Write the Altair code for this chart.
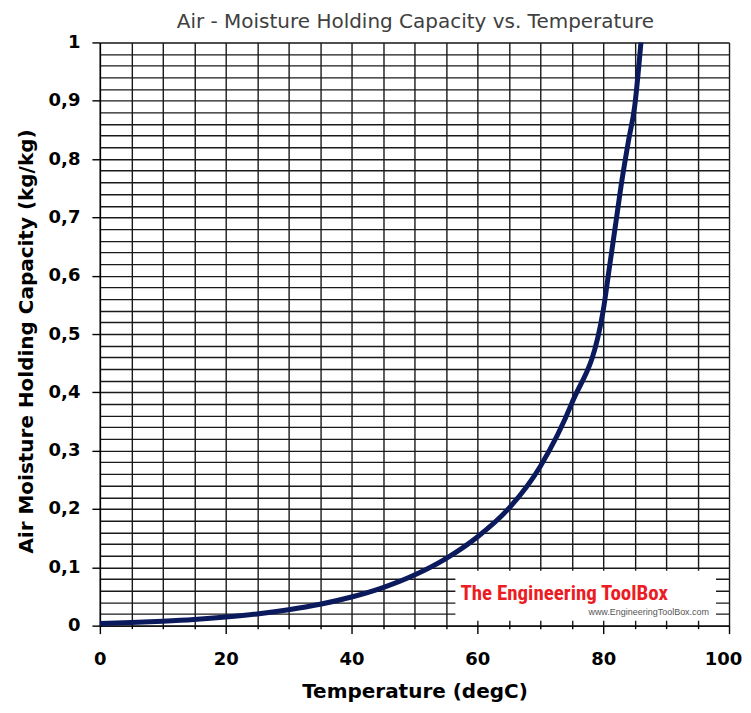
import altair as alt
import pandas as pd

# ---- data ----
temps = [0, 5, 10, 15, 20, 25, 30, 35, 40, 45, 50, 55, 60, 65, 70, 75, 80, 81, 82, 83, 84, 85, 86]
capacity = [0.0038, 0.0054, 0.0077, 0.0107, 0.0148, 0.0201, 0.0273, 0.0367, 0.0491, 0.0653,
            0.0868, 0.115, 0.152, 0.201, 0.273, 0.381, 0.54, 0.615, 0.69, 0.765, 0.83, 0.89, 1.0]

x_grid = list(range(0, 101, 5))
y_grid = [round(i * 0.02, 2) for i in range(51)]

chart_title = ["Air - Moisture Holding Capacity vs. Temperature"]
x_title = "Temperature (degC)"
y_title = "Air Moisture Holding Capacity (kg/kg)"
logo_main = ["The Engineering ToolBox"]
logo_url = ["www.EngineeringToolBox.com"]

df = pd.DataFrame({"t": temps, "c": capacity})

GRID = "#1a1a1a"
FONT = "DejaVu Sans"

y_major = "abs(datum.value*10 - round(datum.value*10)) < 0.001"

x_axis = alt.Axis(
    values=x_grid, grid=True, gridColor=GRID, gridWidth=1.4, gridOpacity=1,
    domainColor="#000", domainWidth=1.4, tickColor="#000", tickWidth=1.4,
    tickSize={"condition": {"test": "datum.value % 20 === 0", "value": 8}, "value": 3},
    labelExpr="datum.value % 20 === 0 ? datum.label : ''",
    labelOffset={"condition": {"test": "datum.value === 100", "value": -6}, "value": 0},
    labelFont=FONT, labelFontSize=18, labelFontWeight="bold", labelColor="#000",
    labelPadding=17, labelOverlap=False, labelBound=False, labelFlush=False,
    title=x_title, titleFont=FONT, titleFontSize=20, titleFontWeight="bold",
    titleColor="#000", titleBaseline="alphabetic", titleY=72,
)

y_axis = alt.Axis(
    values=y_grid, grid=True, gridColor=GRID, gridWidth=1.4, gridOpacity=1,
    domainColor="#000", domainWidth=1.4, tickColor="#000", tickWidth=1.4,
    tickSize={"condition": {"test": y_major, "value": 8}, "value": 0},
    labelExpr=y_major + " ? replace(format(datum.value, '.1~f'), '.', ',') : ''",
    labelFont=FONT, labelFontSize=18, labelFontWeight="bold", labelColor="#000",
    labelPadding=12, labelOverlap=False, labelBound=False, labelFlush=False,
    title=y_title, titleFont=FONT, titleFontSize=20, titleFontWeight="bold",
    titleColor="#000", titleBaseline="alphabetic", titleX=-67, titleY=299,
)

line = alt.Chart(df).mark_line(
    color="#0b1a5c", strokeWidth=5, interpolate="monotone"
).encode(
    x=alt.X("t:Q", scale=alt.Scale(domain=[0, 100], nice=False), axis=x_axis),
    y=alt.Y("c:Q", scale=alt.Scale(domain=[0, 1], nice=False), axis=y_axis),
)

logo_box = alt.Chart(pd.DataFrame({"k": [0]})).mark_rect(fill="white").encode(
    x=alt.value(356), x2=alt.value(617), y=alt.value(529), y2=alt.value(579)
)

logo_text = alt.Chart(pd.DataFrame({"label": logo_main})).mark_text(
    font="Roboto Condensed, Liberation Sans Narrow, DejaVu Sans Condensed, Liberation Sans, sans-serif",
    fontSize=21, fontWeight="bold",
    color="#ec1c24", align="left", baseline="alphabetic"
).encode(x=alt.value(361), y=alt.value(558), text="label:N")

logo_sub = alt.Chart(pd.DataFrame({"label": logo_url})).mark_text(
    font="Liberation Sans", fontSize=9, color="#555555",
    align="right", baseline="middle"
).encode(x=alt.value(610), y=alt.value(570), text="label:N")

title_text = alt.Chart(pd.DataFrame({"label": chart_title})).mark_text(
    font=FONT, fontSize=20, color="#404040", align="center", baseline="alphabetic"
).encode(x=alt.value(316), y=alt.value(-14), text="label:N")

chart = alt.layer(line, logo_box, logo_text, logo_sub, title_text).properties(
    width=630, height=584,
    autosize=alt.AutoSizeParams(type="none"),
    padding={"left": 92, "top": 34, "right": 14, "bottom": 79},
).configure_view(stroke="#000", strokeWidth=1.4).configure(background="white")

chart.save("out.html", embed_options={"renderer": "svg", "actions": False})
